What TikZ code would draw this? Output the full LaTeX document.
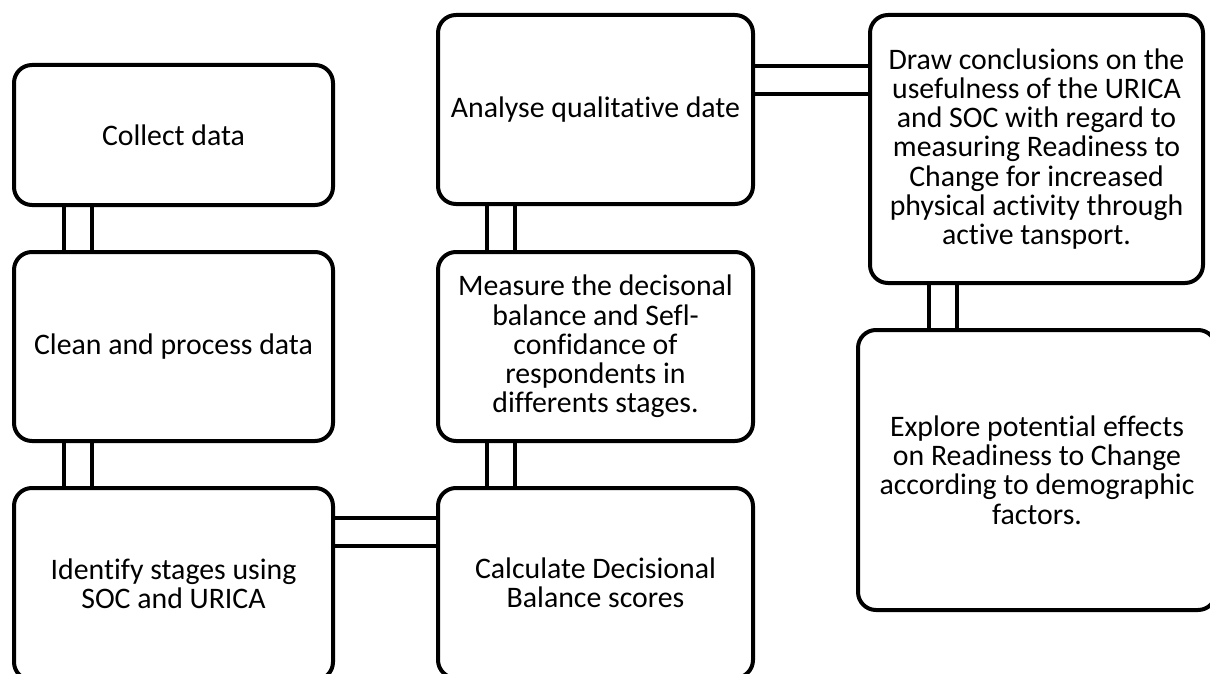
\documentclass[tikz,border=0pt]{standalone}
\usepackage{fontspec}
\setmainfont{Carlito}[Ligatures=NoCommon]
\usetikzlibrary{calc}
\usetikzlibrary{backgrounds}

\begin{document}
\begin{tikzpicture}[x=0.5pt, y=-0.5pt]
    \colorlet{border}{black}

\newcommand\unitpx{0.5pt}
\newcommand\stroke{4}
\newcommand\gap{24}

\tikzset{
    step box/.style={
        draw=border, fill=white, rectangle,
        line width={\stroke * \unitpx},
        rounded corners=9pt,
        align=center,
        inner sep=0pt,
        font=\fontsize{14.9}{14.6}\selectfont,
    },
    link/.style={
        draw=border,
        line width={\stroke * \unitpx},
        double=white,
        double distance={\gap * \unitpx},
    },
}

\useasboundingbox (0, 0) rectangle (1210, 674);
\clip (0, 0) rectangle (1210, 674);

% left column
\node[step box, minimum width={319 * \unitpx}, minimum height={140 * \unitpx}]
    at (173.5, 135) (collect) {Collect data};
\node[step box, minimum width={319 * \unitpx}, minimum height={189 * \unitpx}]
    at (173.5, 346.5) (clean) {Clean and process data};
\node[step box, minimum width={319 * \unitpx}, minimum height={192 * \unitpx}]
    at (173.5, 584) (identify) {Identify stages using\\SOC and URICA};

% middle column
\node[step box, minimum width={315 * \unitpx}, minimum height={189 * \unitpx}]
    at (595.5, 109.5) (analyse) {Analyse qualitative date};
\node[step box, minimum width={315 * \unitpx}, minimum height={189 * \unitpx}]
    at (595.5, 346.5) (measure) {Measure the decisonal\\balance and Sefl-\\confidance of\\respondents in\\differents stages.};
\node[step box, minimum width={315 * \unitpx}, minimum height={190 * \unitpx}]
    at (595.5, 583) (calculate) {Calculate Decisional\\Balance scores};

% right column
\node[step box, minimum width={333 * \unitpx}, minimum height={268 * \unitpx}]
    at (1036.5, 149) (conclude) {Draw conclusions on the\\usefulness of the URICA\\and SOC with regard to\\measuring Readiness to\\Change for increased\\physical activity through\\active tansport.};
\node[step box, minimum width={358 * \unitpx}, minimum height={280 * \unitpx}]
    at (1037, 470) (explore) {Explore potential effects\\on Readiness to Change\\according to demographic\\factors.};

\begin{scope}[on background layer]
    \draw[link] ($(collect.south west)+(66, 0)$) coordinate (l12) -- (l12 |- clean.north);
    \draw[link] ($(clean.south west)+(66, 0)$) coordinate (l23) -- (l23 |- identify.north);
    \draw[link] ($(identify.north east)+(0, 46)$) coordinate (l36) -- (l36 -| calculate.west);
    \draw[link] ($(calculate.north west)+(65, 0)$) coordinate (l65) -- (l65 |- measure.south);
    \draw[link] ($(measure.north west)+(65, 0)$) coordinate (l54) -- (l54 |- analyse.south);
    \draw[link] ($(analyse.north east)+(0, 67)$) coordinate (l47) -- (l47 -| conclude.west);
    \draw[link] ($(conclude.south west)+(75, 0)$) coordinate (l78) -- (l78 |- explore.north);
\end{scope}
\end{tikzpicture}
\end{document}
